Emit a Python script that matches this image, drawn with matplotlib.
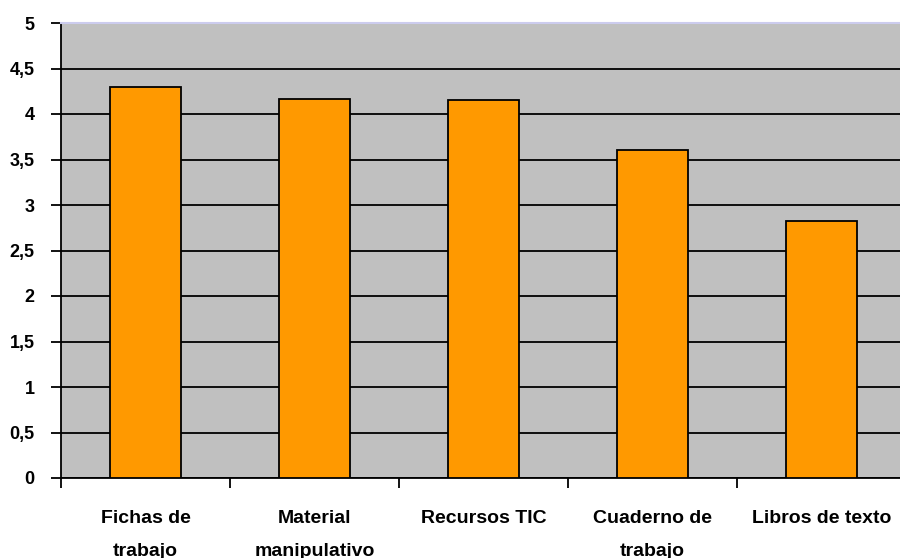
import matplotlib
matplotlib.use("Agg")
import matplotlib.pyplot as plt
import numpy as np

# average rating per resource type
categories = ["Fichas de\ntrabajo", "Material\nmanipulativo", "Recursos TIC",
              "Cuaderno de\ntrabajo", "Libros de texto"]
values = [4.30, 4.17, 4.15, 3.60, 2.82]
yticks = [0, 0.5, 1, 1.5, 2, 2.5, 3, 3.5, 4, 4.5, 5]
ytick_labels = ["0", "0,5", "1", "1,5", "2", "2,5", "3", "3,5", "4", "4,5", "5"]

plt.rcParams['font.family'] = ['Liberation Sans', 'DejaVu Sans']
plt.rcParams['font.weight'] = 'bold'

fig = plt.figure(figsize=(9, 5.58), dpi=100)
ax = fig.add_axes([61/900, 80/558, 845/900, 455/558])
ax.set_facecolor('#c0c0c0')

x = np.arange(len(categories))
ax.set_axisbelow(True)
ax.yaxis.grid(True, color='black', linewidth=1.3)
ax.bar(x, values, width=0.415, color='#ff9900', edgecolor='black', linewidth=1.3, zorder=3)

ax.set_xlim(-0.5, len(categories) - 0.5)
ax.set_ylim(0, 5)
ax.set_yticks(yticks)
ax.set_yticklabels(ytick_labels, fontsize=13, fontweight='bold')
ax.tick_params(axis='y', length=7, width=1.3, pad=12)

# category labels centred, tick marks between categories
ax.set_xticks(x)
ax.set_xticklabels(categories, fontsize=14, fontweight='bold', linespacing=2.2)
ax.tick_params(axis='x', which='major', length=0, pad=23)
ax.set_xticks(np.arange(-0.5, len(categories)), minor=True)
ax.tick_params(axis='x', which='minor', length=7, width=1.3)

for side in ['left', 'bottom']:
    ax.spines[side].set_color('black')
    ax.spines[side].set_linewidth(1.3)
ax.spines['top'].set_color('#ccccee')
ax.spines['top'].set_linewidth(1.5)
ax.spines['right'].set_visible(False)

fig.savefig("out.png", dpi=100)
